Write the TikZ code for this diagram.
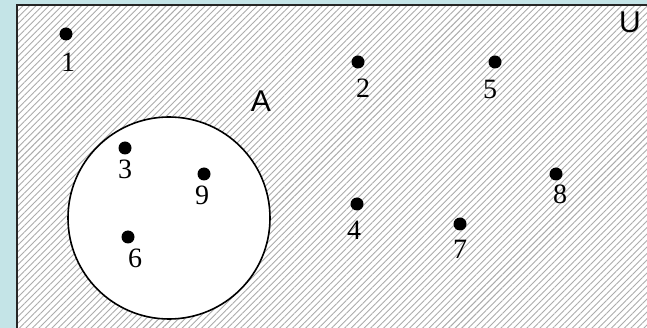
\documentclass[tikz,border=0pt]{standalone}
\usepackage{fontspec}
\setmainfont{Liberation Serif}
\newfontfamily\labelsans{Liberation Sans}
\usetikzlibrary{patterns.meta}
\definecolor{paleteal}{RGB}{196,228,231}
\definecolor{hatchgrey}{RGB}{172,172,172}

\begin{document}
\begin{tikzpicture}[x=1pt, y=-1pt,
    elem/.style={circle, fill=black, inner sep=0pt, minimum size=13pt},
    num/.style={inner sep=0pt, font=\fontsize{28}{28}\selectfont},
    setname/.style={inner sep=0pt, font=\labelsans\fontsize{30}{30}\selectfont}
]
    \useasboundingbox (0,0) rectangle (647,328);
    \fill[paleteal] (0,0) rectangle (647,328);
    \clip (0,0) rectangle (647,328);

    % universe, hatched
    \fill[white] (17,5) rectangle (680,360);
    \fill[pattern={Lines[angle=45, distance=4.6pt, line width=0.9pt]}, pattern color=hatchgrey]
        (17,5) rectangle (680,360);
    \draw[line width=1.8pt, black!85] (17,5) rectangle (680,360);

    % set A
    \node[circle, draw, line width=1.6pt, fill=white, minimum size=202pt, inner sep=0pt] (setA) at (169,218) {};

    \node[setname] (lblU) at (630,22) {U};
    \node[setname] (lblA) at (261,101) {A};

    \node[elem] (e1) at (66,34) {};
    \node[elem] (e2) at (358,62) {};
    \node[elem] (e3) at (125,148) {};
    \node[elem] (e4) at (357,204) {};
    \node[elem] (e5) at (495,62) {};
    \node[elem] (e6) at (128,237) {};
    \node[elem] (e7) at (460,224) {};
    \node[elem] (e8) at (556,174) {};
    \node[elem] (e9) at (204,174) {};

    \node[num] (n1) at (68,62) {1};
    \node[num] (n2) at (363,88) {2};
    \node[num] (n3) at (125,169) {3};
    \node[num] (n4) at (354,230) {4};
    \node[num] (n5) at (490,89) {5};
    \node[num] (n6) at (135,258) {6};
    \node[num] (n7) at (460,249) {7};
    \node[num] (n8) at (560,194) {8};
    \node[num] (n9) at (202,195) {9};
\end{tikzpicture}
\end{document}
